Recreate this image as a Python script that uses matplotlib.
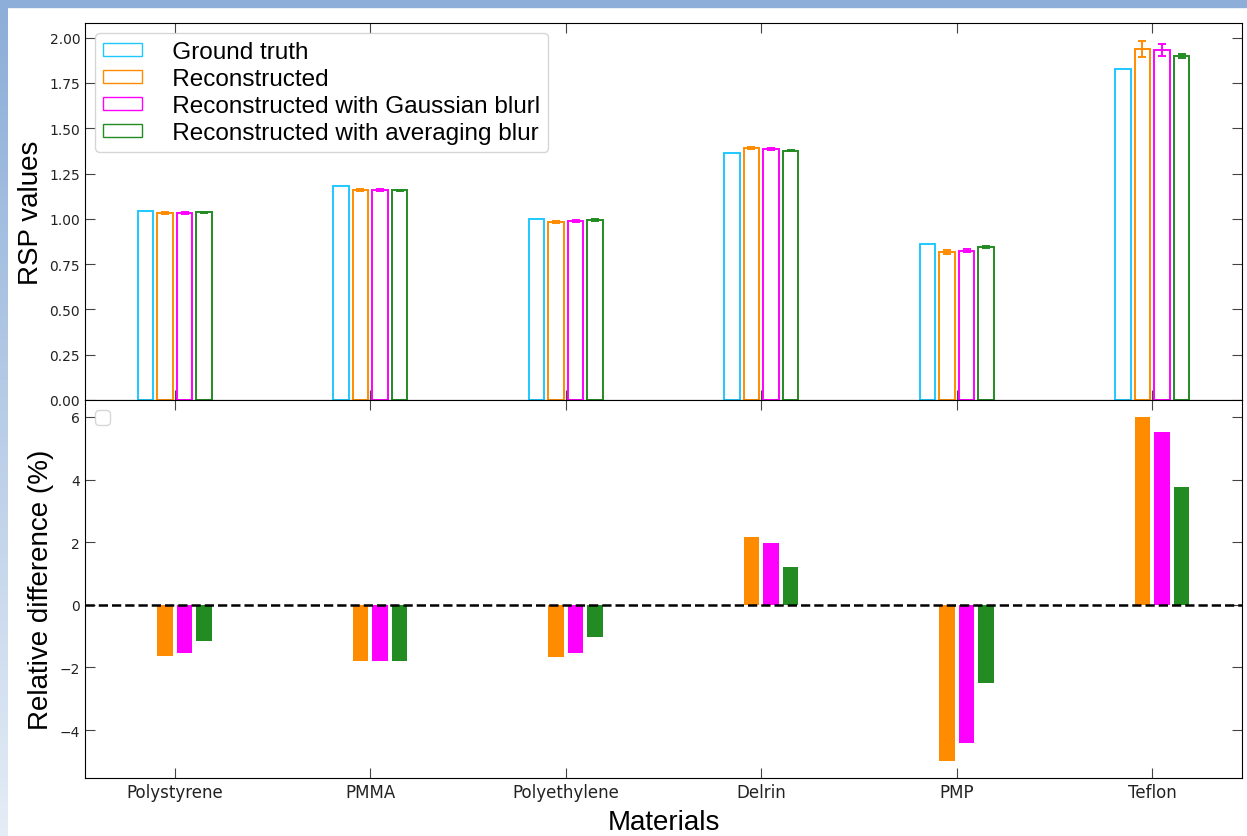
import matplotlib.pyplot as plt
import numpy as np
from matplotlib.patches import Rectangle

materials = ["Polystyrene", "PMMA", "Polyethylene", "Delrin", "PMP", "Teflon"]

# RSP values
gt = [1.046, 1.181, 1.000, 1.365, 0.862, 1.829]
rec = [1.031, 1.157, 0.983, 1.392, 0.818, 1.939]
gauss = [1.031, 1.157, 0.989, 1.387, 0.823, 1.932]
avg = [1.036, 1.157, 0.993, 1.376, 0.845, 1.899]
rec_err = [0.006, 0.005, 0.005, 0.007, 0.010, 0.043]
gauss_err = [0.006, 0.005, 0.005, 0.006, 0.008, 0.035]
avg_err = [0.004, 0.003, 0.004, 0.004, 0.006, 0.012]

# relative difference (%)
rd_rec = [-1.64, -1.80, -1.68, 2.15, -4.98, 5.99]
rd_gauss = [-1.53, -1.80, -1.53, 1.96, -4.41, 5.51]
rd_avg = [-1.16, -1.80, -1.03, 1.22, -2.51, 3.75]

labels = ["Ground truth", "Reconstructed", "Reconstructed with Gaussian blurl",
          "Reconstructed with averaging blur"]
colors = ["#1ec8ff", "darkorange", "magenta", "forestgreen"]

x = np.arange(len(materials))
w = 0.08

fig = plt.figure(figsize=(12.47, 8.37), dpi=100)
# slide-like border
fig.patches.append(Rectangle((0, 1 - 8 / 837), 1, 8 / 837, transform=fig.transFigure,
                             color="#8caed8", zorder=0))
bg = fig.add_axes([0, 0, 8 / 1247, 1 - 8 / 837])
bg.imshow(np.linspace(0, 1, 100).reshape(-1, 1), aspect="auto",
          cmap=plt.matplotlib.colors.LinearSegmentedColormap.from_list("b", ["#8caed8", "#e4ecf6"]))
bg.axis("off")

ax1 = fig.add_axes([85 / 1247, 1 - 401 / 837, 1157 / 1247, 377 / 837])
ax2 = fig.add_axes([85 / 1247, 1 - 779 / 837, 1157 / 1247, 378 / 837], sharex=ax1)

vals = [gt, rec, gauss, avg]
errs = [None, rec_err, gauss_err, avg_err]
offs = [-0.15, -0.05, 0.05, 0.15]
for v, e, o, c, lab in zip(vals, errs, offs, colors, labels):
    ax1.bar(x + o, v, w, fill=False, edgecolor=c, linewidth=1.4, label="   " + lab)
    if e is not None:
        ax1.errorbar(x + o, v, yerr=e, fmt="none", ecolor=c, capsize=3, elinewidth=1.4,
                     capthick=1.4)

for v, o, c in zip([rd_rec, rd_gauss, rd_avg], offs[1:], colors[1:]):
    ax2.bar(x + o, v, w, color=c)
ax2.axhline(0, color="black", linestyle="--", linewidth=1.8)

for ax in (ax1, ax2):
    ax.tick_params(direction="in", length=7, top=True, right=True, labelsize=10,
                   color="#444444", labelcolor="#222222")
ax1.tick_params(labelbottom=False)
ax2.set_xticks(x)
ax2.set_xticklabels(materials)
ax2.tick_params(axis="x", labelsize=12)
ax2.set_yticks([-4, -2, 0, 2, 4, 6])
ax1.set_yticks(np.arange(0, 2.01, 0.25))

lab_font = {"family": "Liberation Sans", "size": 20}
ax1.set_ylabel("RSP values", fontdict=lab_font)
ax2.set_ylabel("Relative difference (%)", fontdict=lab_font)
ax2.set_xlabel("Materials", fontdict=lab_font, labelpad=6)

leg = ax1.legend(loc="upper left", prop={"family": "Liberation Sans", "size": 17.5},
                 handlelength=1.6, handleheight=0.45, handletextpad=0.4, labelspacing=0.2,
                 borderaxespad=0.4, borderpad=0.35)
for h in leg.legend_handles:
    h.set_linewidth(1.0)
ax2.legend(handles=[], loc="upper left", fontsize=14)

fig.savefig("out.png", dpi=100)
